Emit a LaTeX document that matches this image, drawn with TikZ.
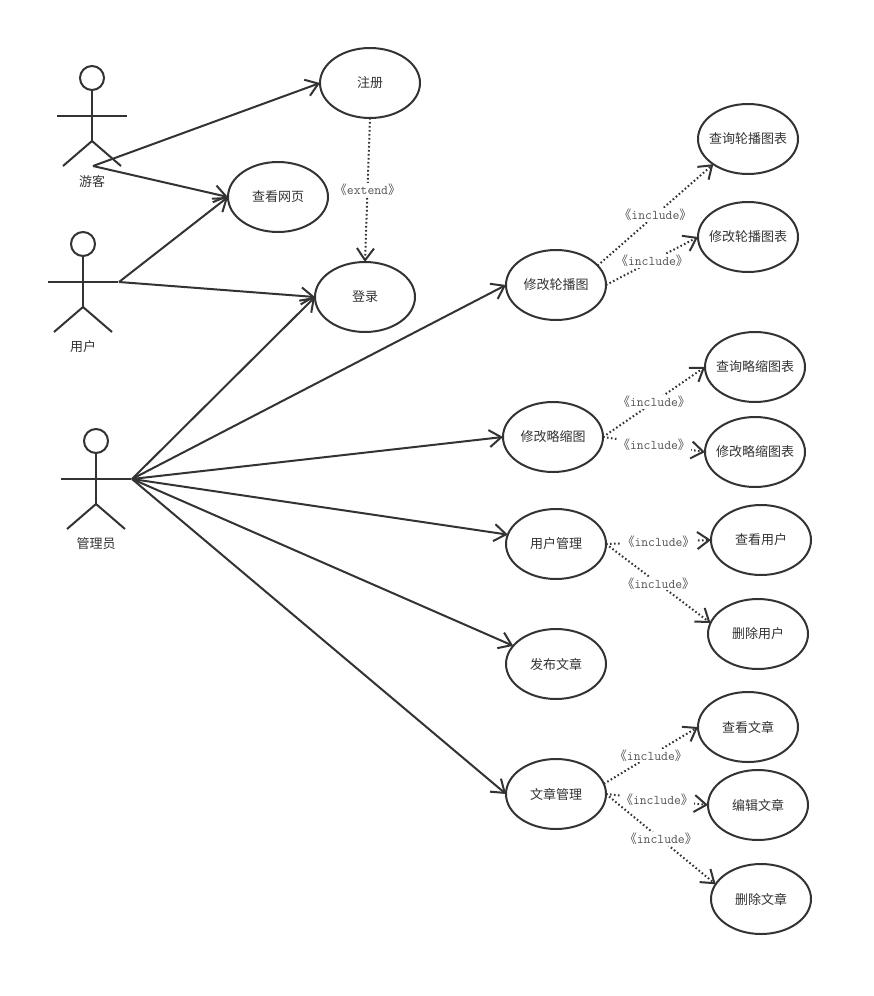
\documentclass[tikz,border=0pt]{standalone}
\usepackage{fontspec}
\setmainfont{Noto Sans CJK SC}
\usetikzlibrary{shapes.geometric,arrows.meta}
\definecolor{inkgray}{HTML}{333333}
\tikzset{
	usecase/.style={draw=inkgray,ellipse,line width=2pt,minimum width=100pt,minimum height=70pt,inner xsep=-14pt,inner ysep=0pt,outer sep=0pt,text=inkgray,font=\fontsize{13}{14}\selectfont},
	actorhead/.style={draw=inkgray,circle,line width=2pt,minimum size=24pt,inner sep=0pt,outer sep=0pt},
	actorname/.style={text=inkgray,font=\fontsize{13}{14}\selectfont},
	limb/.style={draw=inkgray,line width=2pt},
	assoc/.style={draw=inkgray,line width=2pt,-{Straight Barb[length=12pt,width=17pt]}},
	depend/.style={draw=inkgray,line width=2pt,dash pattern=on 1.6pt off 2.4pt,-{Straight Barb[length=12pt,width=17pt]}},
	deplabel/.style={midway,fill=white,inner sep=1pt,text=inkgray!85,font=\fontsize{12.5}{14}\selectfont}
}
\newcommand{\latinlabel}[1]{{\ttfamily\fontsize{13.3}{14}\selectfont #1}}
\newcommand{\incl}{《\latinlabel{include}》}
\begin{document}
\begin{tikzpicture}[x=1pt,y=-1pt]
	\useasboundingbox[fill=white] (0,0) rectangle (873,996);

	% actors
	\foreach \name/\x/\y/\txt in {guest/92/78/游客,member/83/244/用户,admin/96/441/管理员} {
		\node[actorhead] (\name) at (\x,\y) {};
		\coordinate (\name hip) at (\x,\y+63);
		\coordinate (\name left) at (\x-35,\y+38);
		\coordinate (\name right) at (\x+35,\y+38);
		\coordinate (\name lfoot) at (\x-29,\y+88);
		\coordinate (\name rfoot) at (\x+29,\y+88);
		\draw[limb] (\name.south) -- (\name hip);
		\draw[limb] (\name left) -- (\name right);
		\draw[limb] (\name lfoot) -- (\name hip) -- (\name rfoot);
		\node[actorname] (\name label) at (\x,\y+103) {\txt};
	}
	\coordinate (guestfrom) at (93,166);
	\coordinate (memberfrom) at (119,282);
	\coordinate (adminfrom) at (132,479);

	% use cases
	\foreach \name/\x/\y/\txt in {
		signup/370/83/注册,browse/278/197/查看网页,login/365/297/登录,
		banner/556/285/修改轮播图,thumb/553/437/修改略缩图,users/556/544/用户管理,
		publish/556/664/发布文章,posts/556/794/文章管理,
		bannerlist/748/139/查询轮播图表,banneredit/748/237/修改轮播图表,
		thumblist/755/367/查询略缩图表,thumbedit/755/452/修改略缩图表,
		userlist/761/540/查看用户,userdel/758/634/删除用户,
		postview/748/727/查看文章,postedit/758/805/编辑文章,postdel/761/899/删除文章}
		\node[usecase] (\name) at (\x,\y) {\txt};

	\foreach \from/\to in {
		guestfrom/signup.west,guestfrom/browse.west,
		memberfrom/browse.west,memberfrom/login.west,
		adminfrom/login.west,adminfrom/banner.west,adminfrom/thumb.west,
		adminfrom/users.169,adminfrom/publish.157,adminfrom/posts.west}
		\draw[assoc] (\from) -- (\to);

	\draw[depend] (signup.south) -- node[deplabel] (extendlabel) {《\latinlabel{extend}》} (login.north);

	% include arrows
	\foreach \from/\to [count=\n] in {
		banner.25/bannerlist.216,banner.east/banneredit.west,
		thumb.east/thumblist.west,thumb.east/thumbedit.west,
		users.east/userlist.west,users.east/userdel.167,
		posts.12/postview.west,posts.east/postedit.west,posts.east/postdel.162}
		\draw[depend] (\from) -- node[deplabel] (inc\n) {\incl} (\to);
\end{tikzpicture}
\end{document}
